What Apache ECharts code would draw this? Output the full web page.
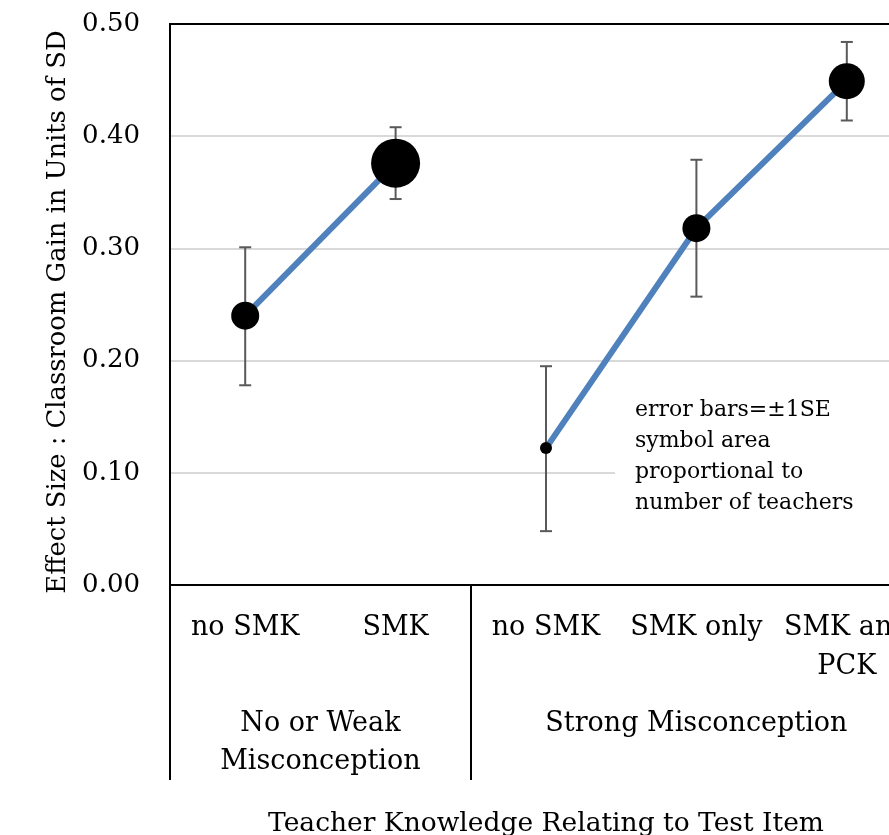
<!DOCTYPE html>
<html>
<head>
<meta charset="utf-8">
<script src="https://cdn.jsdelivr.net/npm/echarts@6/dist/echarts.min.js"></script>
<style>html,body{margin:0;padding:0;background:#fff;}#chart{width:889px;height:835px;}</style>
</head>
<body>
<div id="chart"></div>
<script>
// ---- data ----
var categories = ['no SMK', 'SMK', 'no SMK', 'SMK only', 'SMK and\nPCK'];
var groups = ['No or Weak\nMisconception', 'Strong Misconception'];
var weakValues = [0.240, 0.376];
var strongValues = [0.122, 0.318, 0.449];
var lowerSE = [0.178, 0.344, 0.048, 0.257, 0.414];
var upperSE = [0.301, 0.408, 0.195, 0.379, 0.484];
var teacherSymbolSizes = [28, 49, 12, 28, 36];
var noteLines = ['error bars=\u00b11SE', 'symbol area', 'proportional to', 'number of teachers'];
var yTitle = 'Effect Size : Classroom Gain in Units of SD';
var xTitle = 'Teacher Knowledge Relating to Test Item';

var FONT = 'DejaVu Serif';
var weakData = weakValues.map(function (v, i) { return { value: v, symbolSize: teacherSymbolSizes[i] }; })
  .concat([null, null, null]);
var strongData = [null, null].concat(strongValues.map(function (v, i) {
  return { value: v, symbolSize: teacherSymbolSizes[i + 2] };
}));
var errData = lowerSE.map(function (lo, i) { return [i, lo, upperSE[i]]; });

var chart = echarts.init(document.getElementById('chart'));
chart.setOption({
  animation: false,
  backgroundColor: '#fff',
  grid: {
    left: 170, top: 24, width: 752, height: 561,
    outerBoundsMode: 'none', containLabel: false,
    show: true, borderColor: '#000', borderWidth: 2, backgroundColor: 'transparent'
  },
  xAxis: [{
    type: 'category',
    data: categories,
    boundaryGap: true,
    axisLine: { lineStyle: { color: '#000', width: 2 } },
    axisTick: {
      show: true, length: 195, lineStyle: { color: '#000', width: 2 },
      interval: function (index) { return index === 0 || index === 2; }
    },
    axisLabel: { fontFamily: FONT, fontSize: 27, color: '#000', margin: 23, lineHeight: 39, interval: 0 },
    splitLine: { show: false }
  }, {
    type: 'value',
    min: 0, max: 5, interval: 0.5,
    position: 'bottom',
    axisLine: { show: false },
    axisTick: { show: false },
    splitLine: { show: false },
    axisLabel: {
      fontFamily: FONT, fontSize: 27, color: '#000', margin: 120, lineHeight: 38,
      showMinLabel: true, showMaxLabel: true,
      formatter: function (v) {
        if (Math.abs(v - 1) < 1e-6) return groups[0];
        if (Math.abs(v - 3.5) < 1e-6) return groups[1];
        return '';
      }
    },
    name: xTitle,
    nameLocation: 'middle',
    nameGap: 226,
    nameTextStyle: { fontFamily: FONT, fontSize: 26.5, color: '#000' }
  }],
  yAxis: {
    type: 'value',
    min: 0, max: 0.5, interval: 0.1,
    axisLine: { show: true, lineStyle: { color: '#000', width: 2 } },
    axisTick: { show: false },
    splitLine: { showMaxLine: false, lineStyle: { color: '#d9d9d9', width: 2 } },
    axisLabel: {
      fontFamily: FONT, fontSize: 26, color: '#000', margin: 30,
      formatter: function (v) { return v.toFixed(2); }
    }
  },
  series: [{
    type: 'custom',
    xAxisIndex: 0,
    z: 1,
    data: errData,
    renderItem: function (params, api) {
      var x = api.value(0);
      var lo = api.coord([x, api.value(1)]);
      var hi = api.coord([x, api.value(2)]);
      var hw = 6;
      var st = { stroke: '#595959', lineWidth: 2 };
      return { type: 'group', children: [
        { type: 'line', shape: { x1: lo[0], y1: lo[1], x2: hi[0], y2: hi[1] }, style: st },
        { type: 'line', shape: { x1: lo[0] - hw, y1: lo[1], x2: lo[0] + hw, y2: lo[1] }, style: st },
        { type: 'line', shape: { x1: hi[0] - hw, y1: hi[1], x2: hi[0] + hw, y2: hi[1] }, style: st }
      ] };
    }
  }, {
    type: 'line',
    xAxisIndex: 0,
    z: 3,
    data: weakData,
    symbol: 'circle',
    showAllSymbol: true,
    lineStyle: { color: '#4F81BD', width: 6 },
    itemStyle: { color: '#000' },
    connectNulls: false
  }, {
    type: 'line',
    xAxisIndex: 0,
    z: 3,
    data: strongData,
    symbol: 'circle',
    showAllSymbol: true,
    lineStyle: { color: '#4F81BD', width: 6 },
    itemStyle: { color: '#000' },
    connectNulls: false
  }],
  graphic: [{
    type: 'text',
    left: 615,
    top: 391,
    z: 10,
    style: {
      text: noteLines.join('\n'),
      fontFamily: FONT, fontSize: 22, lineHeight: 31, fill: '#000',
      backgroundColor: '#fff',
      padding: [4, 40, 4, 20]
    }
  }, {
    type: 'text',
    x: 58, y: 312,
    rotation: Math.PI / 2,
    style: {
      text: yTitle,
      fontFamily: FONT, fontSize: 25.8, fill: '#000',
      align: 'center', verticalAlign: 'middle'
    }
  }]
});
</script>
</body>
</html>
